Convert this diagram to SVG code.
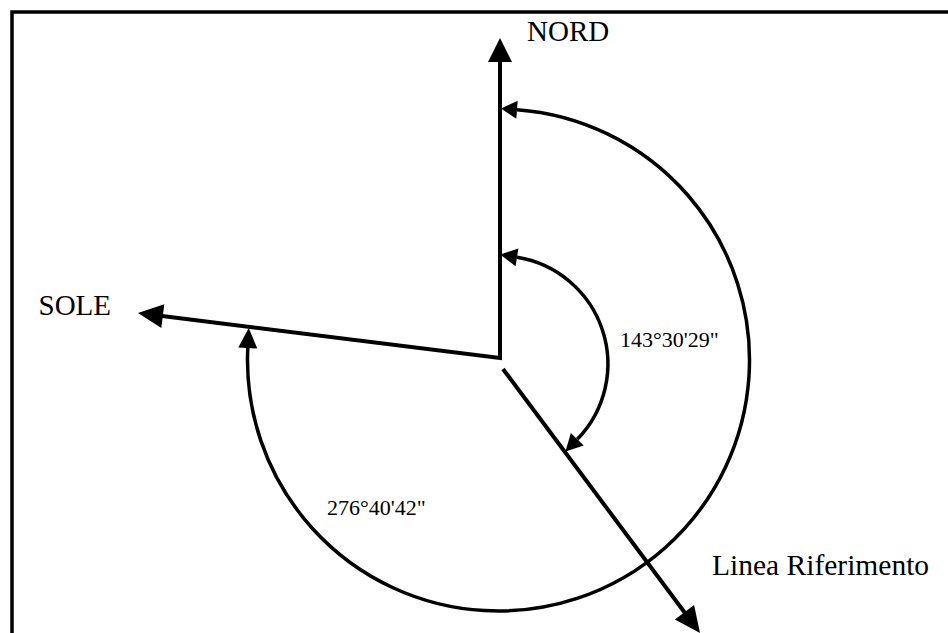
<svg xmlns="http://www.w3.org/2000/svg" width="948" height="633" viewBox="0 0 948 633">
<style>
.line{fill:none;stroke:#000;stroke-width:4;stroke-linejoin:miter}
.arc{fill:none;stroke:#000;stroke-width:3.5}
.head{fill:#000;stroke:none}
.lbl{font-family:"Liberation Serif","Times New Roman",serif;fill:#000}
</style>
<rect width="948" height="633" fill="#fff"/>
<path id="frame" d="M12,633 V12 H948" fill="none" stroke="#000" stroke-width="3.5"/>
<g id="connectors">
<path class="line" d="M500,58 V358 L158,315.5"/>
<polygon class="head" points="500,38 488,62 512,62"/>
<polygon class="head" points="138,313 164.3,304.2 161.3,328"/>
<path class="line" d="M503,369 L688,617"/>
<polygon class="head" points="700,633 694.1,605 674.9,619.4"/>
<path class="arc" d="M517,109.68 A251,251 0 1 1 247.79,348"/>
<polygon class="head" points="501,108.5 517.66,100.7 516.34,118.66"/>
<polygon class="head" points="248.75,328 257.28,348.45 238.3,347.55"/>
<path class="arc" d="M517,257.35 A108,108 0 0 1 577.3,439.3"/>
<polygon class="head" points="500.2,254.6 518.4,248.4 515.6,266.2"/>
<polygon class="head" points="565.45,451.47 583.74,445.57 570.86,433.03"/>
</g>
<g id="nord"><text class="lbl" x="527" y="41" font-size="29">NORD</text></g>
<g id="sole"><text class="lbl" x="111" y="315" font-size="29" text-anchor="end">SOLE</text></g>
<g id="linea"><text class="lbl" x="712" y="575" font-size="29.5">Linea Riferimento</text></g>
<g id="angle1"><text class="lbl" x="620" y="347" font-size="22">143°30'29"</text></g>
<g id="angle2"><text class="lbl" x="327" y="515" font-size="22">276°40'42"</text></g>
</svg>
